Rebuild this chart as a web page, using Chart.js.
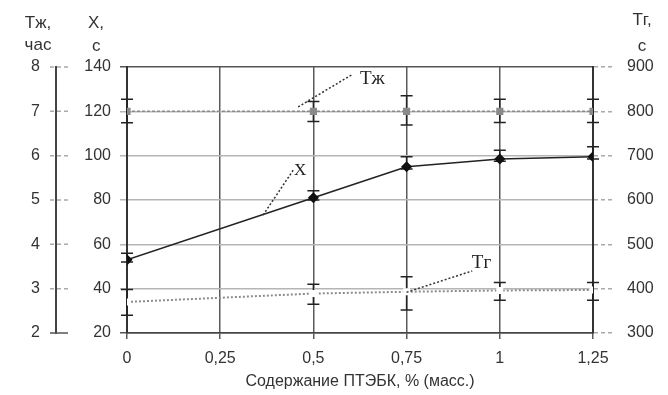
<!DOCTYPE html>
<html>
<head>
<meta charset="utf-8">
<script src="https://cdn.jsdelivr.net/npm/chart.js@4.4.0/dist/chart.umd.min.js"></script>
<style>
  html, body { margin: 0; padding: 0; background: #fff; }
  #wrap { position: relative; width: 668px; height: 395px; }
</style>
</head>
<body>
<div id="wrap"><canvas id="chart" width="668" height="395"></canvas></div>
<script>
// concentration of ПТЭБК, % (масс.)
const conc = [0, 0.5, 0.75, 1, 1.25];
// X, c (left inner axis)
const xMean = [53, 81, 95, 98.5, 99.5];
const xErrUp = [3, 3.2, 4.5, 4, 4.5];
const xErrDown = [1, 1, 1, 1, 1];
// Тж, час (left outer axis)
const tzhMean = [7, 7, 7, 7, 7];
const tzhLow = [6.74, 6.77, 6.69, 6.75, 6.75];
const tzhHigh = [7.27, 7.22, 7.35, 7.27, 7.27];
// Тг, c (right axis)
const tgMean = [370, 389, 393, 396, 397];
const tgLow = [340, 365, 352, 374, 374];
const tgHigh = [398, 410, 427, 414, 414];

const xTicks = [0, 0.25, 0.5, 0.75, 1, 1.25];

const FONT = "'Liberation Sans', Arial, sans-serif";
const SERIF = "'Liberation Serif', 'Times New Roman', serif";
const INK = '#333';

function pts(ys) {
  return conc.map((c, i) => ({ x: c, y: ys[i] }));
}

// вертикальные "усы" погрешности, рисуются через шкалы графика
const errorBars = {
  id: 'errorBars',
  beforeDatasetsDraw(chart) {
    const ctx = chart.ctx;
    const sx = chart.scales.x;
    chart.data.datasets.forEach((ds) => {
      if (!ds.errLow) return;
      const sy = chart.scales[ds.yAxisID];
      ctx.save();
      ctx.strokeStyle = '#222';
      ctx.lineWidth = 1.5;
      conc.forEach((c, i) => {
        const px = sx.getPixelForValue(c);
        const lo = sy.getPixelForValue(ds.errLow[i]);
        const hi = sy.getPixelForValue(ds.errHigh[i]);
        ctx.beginPath();
        ctx.moveTo(px, lo); ctx.lineTo(px, hi);
        ctx.moveTo(px - 6, lo); ctx.lineTo(px + 6, lo);
        ctx.moveTo(px - 6, hi); ctx.lineTo(px + 6, hi);
        ctx.stroke();
      });
      ctx.restore();
    });
  }
};

// подписи осей сверху, выноски и засечки оси Тж
const decorations = {
  id: 'decorations',
  afterDraw(chart) {
    const ctx = chart.ctx;
    const { x: sx, y: sy, yT, yG } = chart.scales;
    ctx.save();

    // засечки по обе стороны оси Тж
    const axT = yT.right;
    yT.ticks.forEach((t) => {
      const py = yT.getPixelForValue(t.value);
      ctx.strokeStyle = t.value === 2 ? '#555' : '#aaa';
      ctx.lineWidth = 1.5;
      ctx.setLineDash(t.value === 2 ? [] : [4, 3]);
      ctx.beginPath();
      ctx.moveTo(axT - 6, py); ctx.lineTo(axT + 12, py);
      ctx.stroke();
    });
    ctx.setLineDash([]);

    // заголовки осей
    ctx.fillStyle = INK;
    ctx.font = '17px ' + FONT;
    ctx.textBaseline = 'middle';
    ctx.textAlign = 'center';
    ctx.fillText('Тж,', 38, 23);
    ctx.fillText('час', 38, 45);
    ctx.textAlign = 'left';
    ctx.fillText('X,', 88, 23);
    ctx.fillText('с', 92, 46);
    ctx.textAlign = 'center';
    ctx.fillText('Тг,', 642, 20);
    ctx.fillText('с', 642, 46);

    // выноски
    ctx.strokeStyle = '#333';
    ctx.lineWidth = 1.5;
    ctx.setLineDash([2, 2]);
    const lead = (x0, y0, x1, y1) => {
      ctx.beginPath();
      ctx.moveTo(x0, y0); ctx.lineTo(x1, y1);
      ctx.stroke();
    };
    lead(sx.getPixelForValue(0.459), yT.getPixelForValue(7.1), sx.getPixelForValue(0.606), yT.getPixelForValue(7.84));
    lead(sx.getPixelForValue(0.365), sy.getPixelForValue(73.2), sx.getPixelForValue(0.446), sy.getPixelForValue(93.5));
    lead(sx.getPixelForValue(0.75), yG.getPixelForValue(392), sx.getPixelForValue(0.926), yG.getPixelForValue(440));
    ctx.setLineDash([]);

    ctx.fillStyle = '#222';
    ctx.textAlign = 'left';
    ctx.font = '19px ' + SERIF;
    ctx.fillText('Тж', sx.getPixelForValue(0.625), yT.getPixelForValue(7.73));
    ctx.font = '17px ' + SERIF;
    ctx.fillText('X', sx.getPixelForValue(0.448), sy.getPixelForValue(93.5));
    ctx.font = '19px ' + SERIF;
    ctx.fillText('Тг', sx.getPixelForValue(0.925), yG.getPixelForValue(458));
    ctx.restore();
  }
};

new Chart(document.getElementById('chart'), {
  type: 'line',
  data: {
    datasets: [
      {
        label: 'X',
        data: pts(xMean),
        yAxisID: 'y',
        errLow: xMean.map((v, i) => v - xErrDown[i]),
        errHigh: xMean.map((v, i) => v + xErrUp[i]),
        borderColor: '#222',
        borderWidth: 1.5,
        pointStyle: 'rectRot',
        pointRadius: 4.5,
        pointBackgroundColor: '#111',
        pointBorderColor: '#111',
        tension: 0
      },
      {
        label: 'Тж',
        data: pts(tzhMean),
        yAxisID: 'yT',
        errLow: tzhLow,
        errHigh: tzhHigh,
        borderColor: '#8a8a8a',
        borderWidth: 1.5,
        borderDash: [3, 2],
        pointStyle: 'rect',
        pointRadius: 4,
        pointBackgroundColor: '#8a8a8a',
        pointBorderColor: '#8a8a8a'
      },
      {
        label: 'Тг',
        data: pts(tgMean),
        yAxisID: 'yG',
        errLow: tgLow,
        errHigh: tgHigh,
        borderColor: '#8c8c8c',
        borderWidth: 2,
        borderDash: [2, 2],
        pointStyle: 'rect',
        pointRadius: 3.5,
        pointBackgroundColor: '#fff',
        pointBorderColor: '#fff'
      }
    ]
  },
  options: {
    responsive: false,
    devicePixelRatio: 1,
    animation: false,
    layout: { padding: { top: 67, left: 0, right: 0, bottom: 0 } },
    plugins: { legend: { display: false }, tooltip: { enabled: false } },
    scales: {
      x: {
        type: 'linear',
        min: 0,
        max: 1.25,
        afterBuildTicks: (s) => { s.ticks = xTicks.map((v) => ({ value: v })); },
        ticks: {
          color: INK,
          font: { family: FONT, size: 16 },
          padding: 10,
          callback: (v) => String(v).replace('.', ',')
        },
        grid: { color: '#5a5a5a', lineWidth: 1.5, tickLength: 6 },
        border: { display: true, color: '#444', width: 1.5 },
        title: {
          display: true,
          text: 'Содержание ПТЭБК, % (масс.)',
          color: INK,
          font: { family: FONT, size: 16 },
          padding: { top: 4, bottom: 4 }
        },
        afterFit: (s) => { s.height = 62; }
      },
      y: {
        position: 'left',
        weight: 0,
        min: 20,
        max: 140,
        ticks: { stepSize: 20, color: INK, font: { family: FONT, size: 16 }, padding: 9 },
        grid: {
          color: (c) => (c.tick && (c.tick.value === 140 || c.tick.value === 20)) ? '#555' : '#b5b5b5',
          lineWidth: 1.5,
          tickLength: 7
        },
        border: { display: true, color: '#333', width: 2 },
        afterFit: (s) => { s.width = 71; }
      },
      yT: {
        position: 'left',
        weight: 1,
        min: 2,
        max: 8,
        ticks: { stepSize: 1, color: INK, font: { family: FONT, size: 16 }, padding: 16 },
        grid: { drawOnChartArea: false, drawTicks: false },
        border: { display: true, color: '#444', width: 2 },
        afterFit: (s) => { s.width = 56; }
      },
      yG: {
        position: 'right',
        min: 300,
        max: 900,
        ticks: { stepSize: 100, color: INK, font: { family: FONT, size: 16 }, padding: 15 },
        grid: {
          drawOnChartArea: false,
          color: '#aaa',
          lineWidth: 1.5,
          tickLength: 19,
          tickBorderDash: [4, 3]
        },
        border: { display: true, color: '#333', width: 2 },
        afterFit: (s) => { s.width = 75; }
      }
    }
  },
  plugins: [errorBars, decorations]
});
</script>
</body>
</html>
